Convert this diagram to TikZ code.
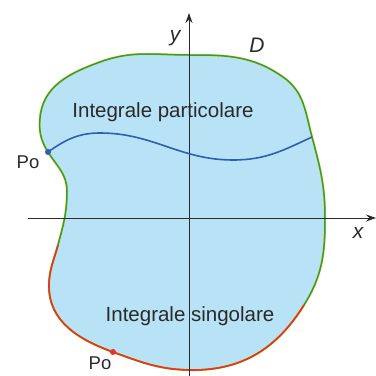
\documentclass[tikz,border=0pt]{standalone}
\usepackage{fontspec}
\setmainfont{Liberation Sans}
\usetikzlibrary{arrows.meta}
\definecolor{dfill}{HTML}{B8E2F6}
\definecolor{dgreen}{HTML}{35984A}
\definecolor{dred}{HTML}{E8322A}
\definecolor{dblue}{HTML}{2F5FAE}
\definecolor{dyellow}{HTML}{E6E03C}
\definecolor{inkdark}{HTML}{2A2A2A}
\newcommand{\Dboundary}{(189,321) to[out=0, in=145] (283,299)
  to[out=-35, in=105] (312,239) to[out=-75, in=90] (325,158)
  to[out=-90, in=58] (304,71) to[out=-122, in=0] (193,6)
  to[out=180, in=-20] (113,24) to[out=160, in=-90] (49,90)
  to[out=90, in=-105] (58,131) to[out=75, in=-90] (67,185)
  to[out=90, in=-58] (48,224) to[out=122, in=-95] (40,258)
  to[out=85, in=200] (100,314) to[out=20, in=180] (189,321) -- cycle}

\begin{document}
\begin{tikzpicture}[x=1pt, y=1pt,
    axis/.style={inkdark, line width=0.9pt, -{Stealth[length=10pt, width=7pt]}},
    lab/.style={font=\fontsize{20.5}{24}\selectfont, text=inkdark},
    po/.style={font=\fontsize{18.5}{22}\selectfont, text=inkdark},
    var/.style={font=\fontsize{21}{24}\selectfont\itshape, text=inkdark}]
    \useasboundingbox (0,0) rectangle (376,376);
    \fill[dfill] \Dboundary;
    \draw[dyellow, line width=2.3pt] \Dboundary;
    \draw[dgreen, line width=1.5pt] \Dboundary;
    \begin{scope}
      \clip (0,0) -- (0,131) -- (58,131) -- (304,71) -- (376,71) -- (376,0) -- cycle;
      \draw[dred, line width=1.6pt] \Dboundary;
    \end{scope}
    \coordinate (xs) at (28,158);
    \coordinate (xe) at (376,158);
    \coordinate (ys) at (189,0);
    \coordinate (ye) at (189,363);
    \coordinate (P1) at (48,224);
    \coordinate (P2) at (113,24);
    \coordinate (Q) at (312,239);
    \draw[axis] (xs) -- (xe);
    \draw[axis] (ys) -- (ye);
    \draw[dblue, line width=1.6pt] (P1) to[out=35, in=180] (100,243)
      to[out=0, in=180] (233,216) to[out=0, in=205] (Q);
    \fill[dblue] (P1) circle (3);
    \fill[dred] (P2) circle (3);
    \node[po] (po1) at (28,214) {Po};
    \node[po] (po2) at (100,13) {Po};
    \node[var] (ylab) at (175,338) {y};
    \node[var] (dlab) at (257,331) {D};
    \node[var] (xlab) at (358,143) {x};
    \node[lab] (part) at (163,264) {Integrale particolare};
    \node[lab] (sing) at (190,60) {Integrale singolare};
\end{tikzpicture}
\end{document}
